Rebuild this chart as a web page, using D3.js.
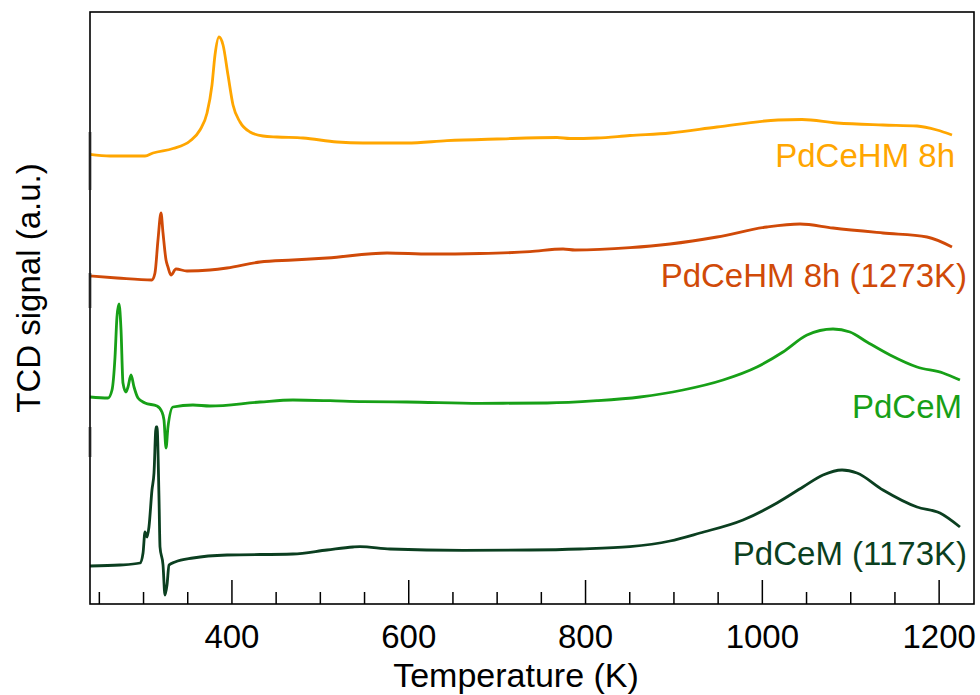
<!DOCTYPE html>
<html>
<head>
<meta charset="utf-8">
<script src="https://cdn.jsdelivr.net/npm/d3@7"></script>
<style>
  body { margin: 0; background: #fff; }
  svg { display: block; font-family: "Liberation Sans", Arial, sans-serif; }
</style>
</head>
<body>
<svg id="chart" width="980" height="695"></svg>
<script>
// ---- Data (temperature K, TCD signal a.u. incl. vertical offset) ----
const majorTicks = [400, 600, 800, 1000, 1200];
const minorTicks = [250, 300, 350, 450, 500, 550, 650, 700, 750, 850, 900, 950, 1050, 1100, 1150];

const seriesNames = ["PdCeHM 8h", "PdCeHM 8h (1273K)", "PdCeM", "PdCeM (1173K)"];
const seriesColors = ["#FFA600", "#D04A08", "#17A017", "#0B3F20"];

const pdcehm8h = [
  [240,44.97],[262.6,44.8],[302.2,44.8],[311.3,45.1],[333.9,45.55],[353.1,46.3],[364.4,47.4],
  [372.4,49.1],[378,51.9],[381.4,54.9],[385.9,56.7],[390.5,55.9],[396.1,52.9],[401.8,49.9],
  [409.7,48.2],[421,47.2],[435.7,46.8],[451.5,46.7],[481,46.6],[519.4,46.2],[548.8,46.1],
  [598.6,46.1],[643.8,46.33],[700.4,46.5],[768.3,46.65],[783,46.55],[813.5,46.6],[850.8,46.85],
  [896.1,47.1],[949.3,47.7],[1018.3,48.4],[1045.4,48.45],[1085,48.1],[1137,47.9],[1175.5,47.8],
  [1198.1,47.4],[1215.1,46.9]
];
const pdcehm8h1273 = [
  [240,32.8],[270.5,32.6],[310.1,32.4],[313.5,33.1],[316.9,36.4],[320.3,39.1],[322.6,37.1],
  [326,34.4],[328.2,33.7],[331.6,32.9],[337.3,33.5],[349.7,33.3],[375.7,33.4],[395,33.6],
  [432.3,34.2],[469.6,34.4],[508.1,34.6],[576,35.1],[624.6,35.0],[681.2,35.05],[737.7,35.23],
  [775.1,35.5],[788.6,35.4],[850.8,35.63],[896.1,36.0],[949.3,36.7],[1005.8,37.7],[1043.2,38.0],
  [1080.5,37.6],[1137,37.1],[1186.8,36.7],[1215.1,35.7]
];
const pdcem = [
  [240,20.7],[260.4,20.6],[264.9,21.4],[268.3,24.7],[270.5,28.7],[272.8,30.0],[275.1,27.4],
  [277.3,22.1],[280.7,21.2],[283,21.7],[286.4,22.9],[289.8,21.7],[294.3,20.6],[302.2,20.1],
  [315.8,19.8],[321.4,19.2],[323.7,18.4],[326,15.6],[328.2,17.7],[333.9,19.7],[356.5,19.9],
  [375.7,19.8],[432.3,20.2],[469.6,20.4],[511.5,20.33],[548.8,20.23],[598.6,20.2],[681.2,20.07],
  [757,20.1],[813.5,20.33],[862.2,20.7],[910.8,21.4],[956.1,22.4],[994.5,23.7],[1023.9,25.2],
  [1051.1,26.9],[1080.5,27.5],[1099.7,27.2],[1118.9,26.2],[1145,24.9],[1175.5,23.7],[1204.9,23.1],
  [1224.1,22.4]
];
const pdcem1173 = [
  [240,3.8],[273.9,3.9],[296.6,4.1],[300,5.1],[302.2,7.2],[304.5,6.7],[306.7,7.7],[310.1,11.4],
  [312.4,13.1],[314.7,17.7],[315.8,17.7],[318.1,10.4],[319.2,5.7],[322.6,3.9],[324.8,0.9],
  [327.1,1.9],[329.4,3.9],[336.2,4.2],[356.5,4.6],[395,4.9],[469.6,5.0],[508.1,5.4],[537.5,5.7],
  [545.4,5.73],[579.4,5.5],[661.9,5.37],[737.7,5.4],[794.3,5.5],[850.8,5.73],[896.1,6.3],
  [930,7.1],[978.7,8.4],[1017.1,10.1],[1046.5,11.7],[1069.2,12.9],[1090.7,13.4],[1107.6,13.1],
  [1137,11.4],[1175.5,9.7],[1201.5,9.1],[1224.1,7.7]
];
const allSeries = [pdcehm8h, pdcehm8h1273, pdcem, pdcem1173];

// ---- Layout ----
const svg = d3.select("#chart");
const L = 90, R = 974, T = 12, B = 604;
const x = d3.scaleLinear().domain([240, 1240]).range([L, R]);
const y = d3.scaleLinear().domain([0, 59.2]).range([B, T]);

// curves
const line = d3.line().x(d => x(d[0])).y(d => y(d[1])).curve(d3.curveMonotoneX);
svg.append("g").selectAll("path").data(allSeries).join("path")
  .attr("d", line)
  .attr("fill", "none")
  .attr("stroke", (d, i) => seriesColors[i])
  .attr("stroke-width", 2.8)
  .attr("stroke-linejoin", "round");

// ticks (inward)
const gMinor = svg.append("g").attr("transform", `translate(0,${B})`)
  .call(d3.axisBottom(x).tickValues(minorTicks).tickSize(-12).tickFormat(""));
gMinor.select(".domain").remove();
gMinor.selectAll("line").attr("stroke", "#000").attr("stroke-width", 1.5);

const gMajor = svg.append("g").attr("transform", `translate(0,${B})`)
  .call(d3.axisBottom(x).tickValues(majorTicks).tickSize(-24).tickPadding(0).tickFormat(d3.format("d")));
gMajor.select(".domain").remove();
gMajor.selectAll("line").attr("stroke", "#000").attr("stroke-width", 1.5);
gMajor.selectAll("text")
  .attr("y", 44).attr("dy", 0)
  .attr("font-size", 33).attr("fill", "#000")
  .attr("font-family", "Liberation Sans, Arial, sans-serif");

// frame
svg.append("rect").attr("x", L).attr("y", T).attr("width", R - L).attr("height", B - T)
  .attr("fill", "none").attr("stroke", "#000").attr("stroke-width", 1.6);
// darker segments on left axis
[[132,190],[273,308],[427,457]].forEach(([a,b]) => {
  svg.append("line").attr("x1", L).attr("x2", L).attr("y1", a).attr("y2", b)
    .attr("stroke", "#222").attr("stroke-width", 2.6);
});

// axis titles
svg.append("text").attr("x", 516).attr("y", 687).attr("text-anchor", "middle")
  .attr("font-size", 34).attr("fill", "#000").text("Temperature (K)");
svg.append("text").attr("transform", "translate(40,288) rotate(-90)").attr("text-anchor", "middle")
  .attr("font-size", 33).attr("fill", "#000").text("TCD signal (a.u.)");

// series labels
const labelPos = [[955,167],[967,287],[962,418],[967,565]];
svg.append("g").selectAll("text").data(seriesNames).join("text")
  .attr("x", (d, i) => labelPos[i][0]).attr("y", (d, i) => labelPos[i][1])
  .attr("text-anchor", "end").attr("font-size", 33)
  .attr("fill", (d, i) => seriesColors[i]).text(d => d);
</script>
</body>
</html>
